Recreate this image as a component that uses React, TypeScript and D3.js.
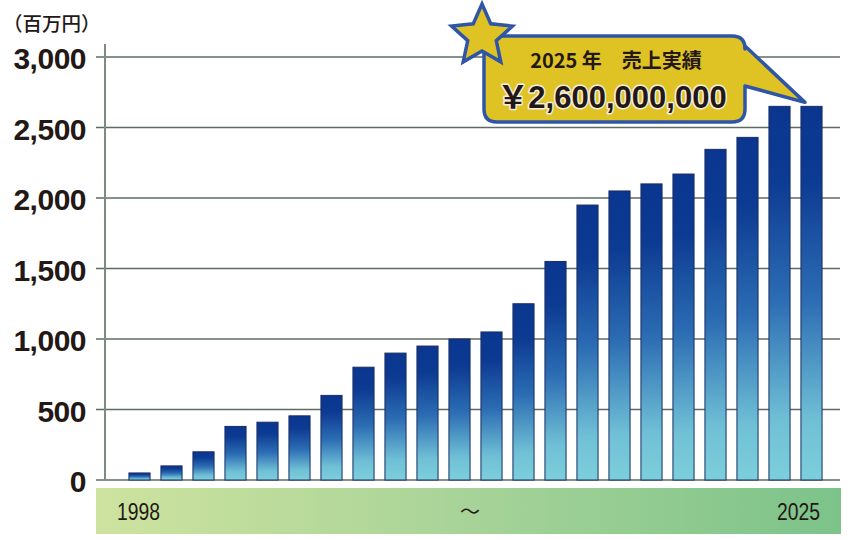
import React from "react";
import * as d3 from "d3";

const categories = [
  "1998", "b02", "b03", "b04", "b05", "b06", "b07", "b08", "b09", "b10", "b11",
  "b12", "b13", "b14", "b15", "b16", "b17", "b18", "b19", "b20", "b21", "2025",
];
const sales = [
  50, 100, 200, 380, 410, 455, 600, 800, 900, 950, 1000,
  1050, 1250, 1550, 1950, 2050, 2100, 2170, 2345, 2430, 2650, 2650,
];
const yTicks = [0, 500, 1000, 1500, 2000, 2500, 3000];
const bandLabels = ["1998", "～", "2025"];
const unitLabel = "（百万円）";
const calloutTitle = "2025 年　売上実績";
const calloutValue = "￥2,600,000,000";

const W = 850;
const H = 540;

export default function App() {
  const x = d3
    .scaleBand<string>()
    .domain(categories)
    .range([123.5, 827.5])
    .paddingInner(0.34)
    .paddingOuter(0.17);
  const y = d3.scaleLinear().domain([0, 3000]).range([480, 57]);
  const fmt = d3.format(",");

  // star path
  const cx = 482, cy = 36, R = 32, r = 15;
  const starPts: [number, number][] = d3.range(10).map((i) => {
    const ang = -Math.PI / 2 + (i * Math.PI) / 5;
    const rad = i % 2 === 0 ? R : r;
    return [cx + rad * Math.cos(ang), cy + rad * Math.sin(ang)];
  });
  const starPath = d3.line()(starPts) + "Z";

  // callout path (rounded rect + tail)
  const bx0 = 484, by0 = 36, bx1 = 745, by1 = 122, cr = 13;
  const tip: [number, number] = [x("2025")! + 4, y(2650) - 4];
  const callout = d3.path();
  callout.moveTo(bx0 + cr, by0);
  callout.lineTo(bx1 - cr, by0);
  callout.quadraticCurveTo(bx1, by0, bx1, by0 + cr);
  callout.lineTo(bx1, 46);
  callout.lineTo(tip[0], tip[1]);
  callout.lineTo(bx1, 86);
  callout.lineTo(bx1, by1 - cr);
  callout.quadraticCurveTo(bx1, by1, bx1 - cr, by1);
  callout.lineTo(bx0 + cr, by1);
  callout.quadraticCurveTo(bx0, by1, bx0, by1 - cr);
  callout.lineTo(bx0, by0 + cr);
  callout.quadraticCurveTo(bx0, by0, bx0 + cr, by0);
  callout.closePath();

  const numFont = "'Liberation Sans', Arial, sans-serif";
  const jpFont = "'Noto Sans CJK JP', 'Noto Sans', sans-serif";

  return (
    <svg
      width={W}
      height={H}
      viewBox={`0 0 ${W} ${H}`}
      style={{ position: "absolute", left: 0, top: 0, background: "#fff" }}
    >
      <defs>
        <linearGradient id="barGrad" x1="0" y1="0" x2="0" y2="1">
          <stop offset="0" stopColor="#0a3690" />
          <stop offset="0.2" stopColor="#0c3b93" />
          <stop offset="0.52" stopColor="#2c6db3" />
          <stop offset="0.84" stopColor="#6fc0d6" />
          <stop offset="1" stopColor="#7ccfda" />
        </linearGradient>
        <linearGradient id="bandGrad" x1="0" y1="0" x2="1" y2="0">
          <stop offset="0" stopColor="#cee39f" />
          <stop offset="0.5" stopColor="#a7d398" />
          <stop offset="1" stopColor="#7cc38a" />
        </linearGradient>
      </defs>

      {/* unit label */}
      <text x={3} y={31} fontFamily={jpFont} fontWeight={500} fontSize={19.5} fill="#231815">
        {unitLabel}
      </text>

      {/* gridlines */}
      {yTicks.map((t) => (
        <line
          key={t}
          x1={96}
          x2={840}
          y1={y(t)}
          y2={y(t)}
          stroke="#5d6c62"
          strokeWidth={1.6}
        />
      ))}
      {/* y axis line */}
      <line x1={105} x2={105} y1={44} y2={480} stroke="#7d8c80" strokeWidth={2} />

      {/* y tick labels */}
      {yTicks.map((t) => (
        <text
          key={t}
          x={86}
          y={y(t) + 12}
          textAnchor="end"
          fontFamily={numFont}
          fontWeight="bold"
          fontSize={30}
          letterSpacing={-0.5}
          fill="#231815"
        >
          {fmt(t)}
        </text>
      ))}

      {/* bars */}
      {categories.map((c, i) => (
        <rect
          key={c}
          x={x(c)}
          y={y(sales[i])}
          width={x.bandwidth()}
          height={y(0) - y(sales[i])}
          fill="url(#barGrad)"
          stroke="#1b2d63"
          strokeWidth={1}
        />
      ))}

      {/* bottom band */}
      <rect x={96} y={488} width={745} height={46} fill="url(#bandGrad)" />
      <text
        x={117}
        y={520}
        textLength={43}
        lengthAdjust="spacingAndGlyphs"
        fontFamily={numFont}
        fontSize={23.5}
        fill="#231815"
      >
        {bandLabels[0]}
      </text>
      <text x={470} y={519} textAnchor="middle" fontFamily={jpFont} fontSize={20} fill="#231815">
        {bandLabels[1]}
      </text>
      <text
        x={777}
        y={520}
        textLength={43}
        lengthAdjust="spacingAndGlyphs"
        fontFamily={numFont}
        fontSize={23.5}
        fill="#231815"
      >
        {bandLabels[2]}
      </text>

      {/* callout */}
      <path d={callout.toString()} fill="#dfc325" stroke="#2f55a6" strokeWidth={3.5} strokeLinejoin="round" />
      <path d={starPath} fill="#dfc325" stroke="#2f55a6" strokeWidth={3.5} strokeLinejoin="miter" />
      <text
        x={616}
        y={68}
        textAnchor="middle"
        fontFamily={jpFont}
        fontWeight="bold"
        fontSize={20}
        fill="#231815"
      >
        {calloutTitle}
      </text>
      <text
        x={612}
        y={108}
        textAnchor="middle"
        fontFamily={`'Liberation Sans', ${jpFont}`}
        fontWeight="bold"
        fontSize={31}
        fill="#231815"
        stroke="#f4efe0"
        strokeWidth={3}
        paintOrder="stroke"
        strokeLinejoin="round"
      >
        {calloutValue}
      </text>
    </svg>
  );
}
